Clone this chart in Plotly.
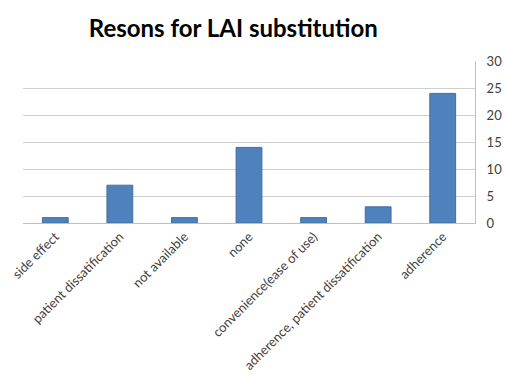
import plotly.graph_objects as go

categories = ["side effect", "patient dissatification", "not available", "none",
              "convenience(ease of use)", "adherence, patient dissatification", "adherence"]
values = [1, 7, 1, 14, 1, 3, 24]
y_ticks = [0, 5, 10, 15, 20, 25, 30]

fig = go.Figure(go.Bar(
    x=categories, y=values,
    marker=dict(color="#4F81BD", line=dict(color="#41719C", width=1)),
))

fig.update_layout(
    width=505, height=376,
    margin=dict(l=23, r=30, t=61, b=153, autoexpand=False),
    paper_bgcolor="white", plot_bgcolor="white",
    bargap=0.6,
    showlegend=False,
    font=dict(family="Lato, Open Sans, sans-serif", color="#404040", size=12),
    title=dict(text="<b>Resons for LAI substitution</b>", x=0.462, xanchor="center",
               y=0.925, yanchor="middle",
               font=dict(size=24, color="#000000", family="Lato, Open Sans, sans-serif")),
)
fig.update_xaxes(tickangle=-45, showline=True, linecolor="#BFBFBF", linewidth=1,
                 ticks="", showgrid=False, automargin=False, tickfont=dict(size=13))
fig.update_yaxes(side="right", range=[0, 30], tickvals=y_ticks, showgrid=True,
                 gridcolor="#CFCFCF", gridwidth=1, showline=True, linecolor="#BFBFBF",
                 zeroline=False, ticks="", automargin=False, tickfont=dict(size=13),
                 ticklabelstandoff=8)

fig.write_html("out.html")
